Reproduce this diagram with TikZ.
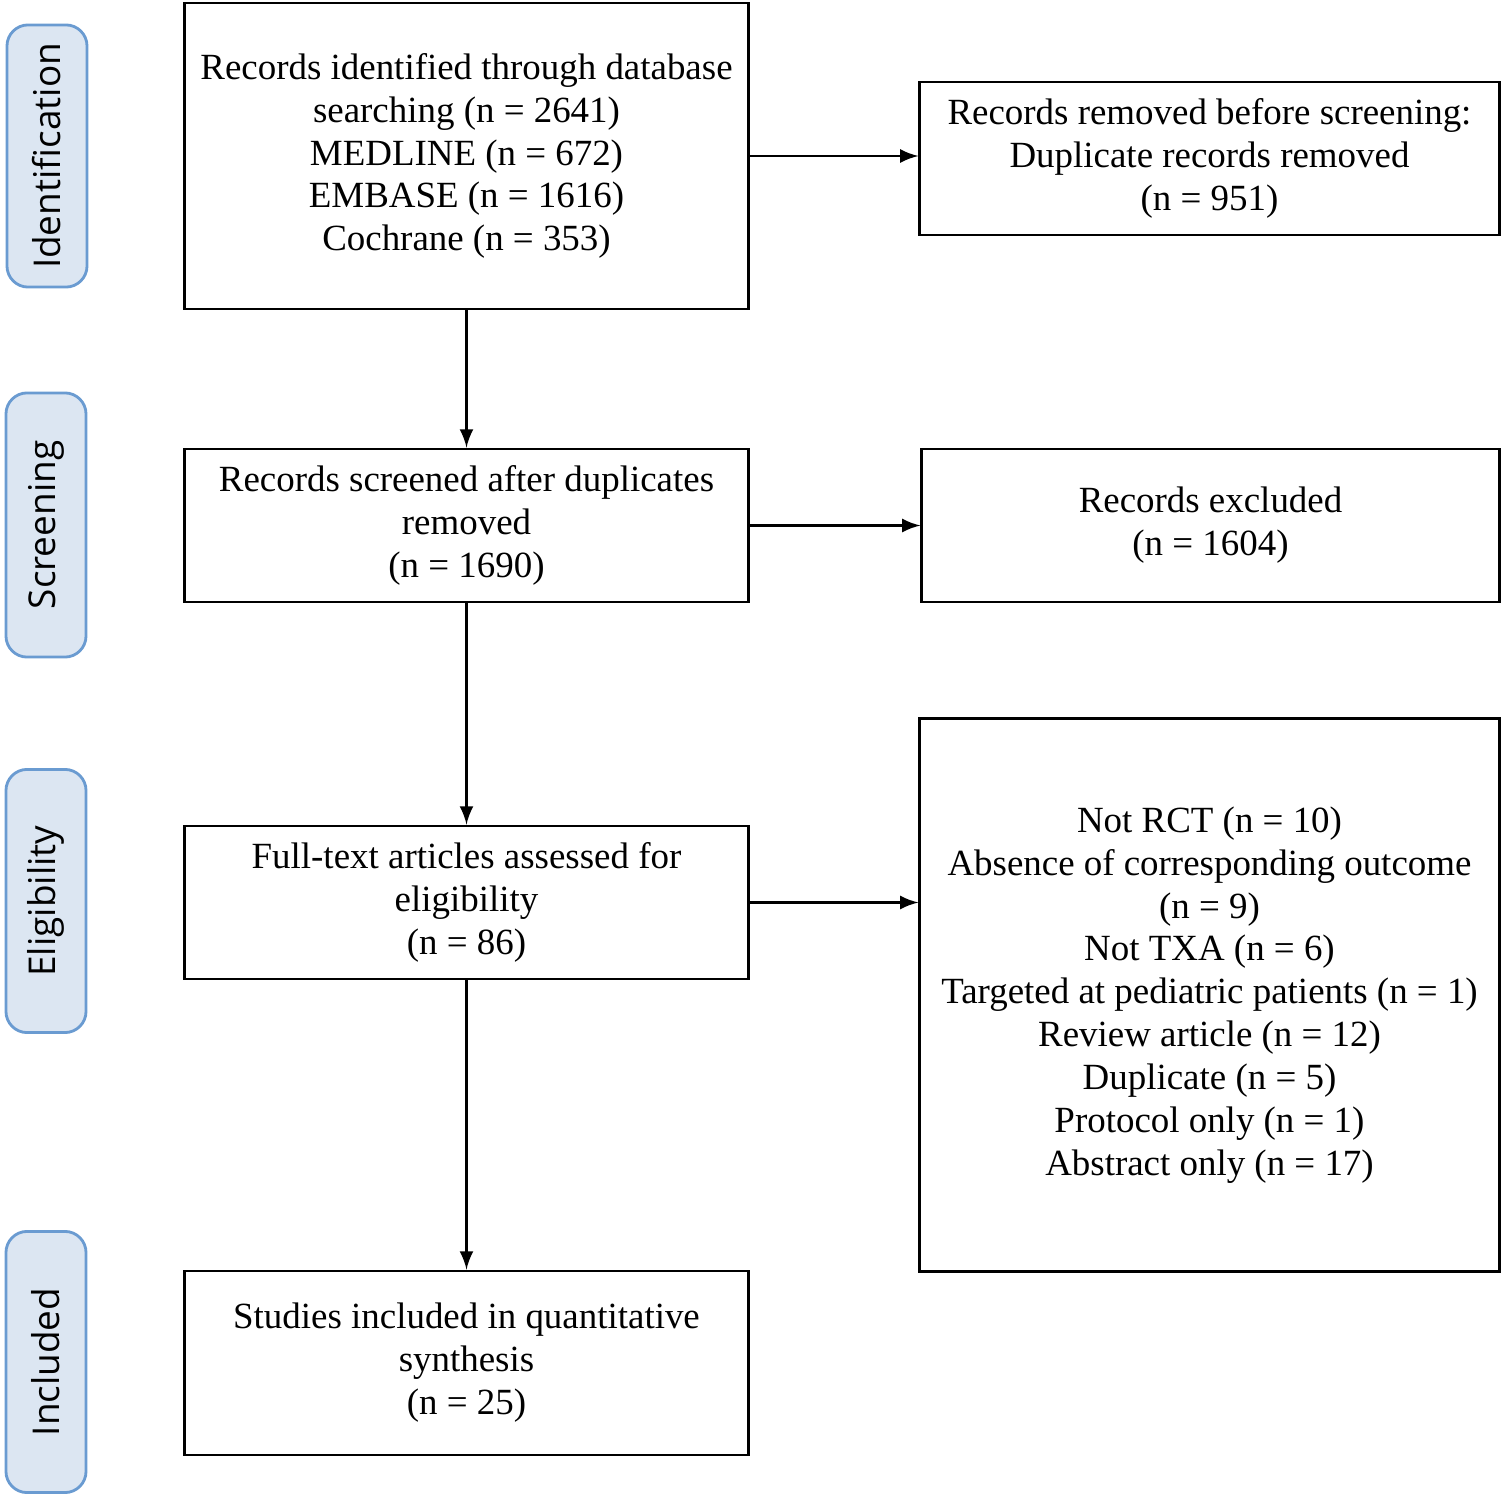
\documentclass[tikz,border=0pt]{standalone}
\usepackage{fontspec}
\setmainfont{Liberation Serif}
\newfontfamily\sidefont{Open Sans}
\usetikzlibrary{positioning}
\definecolor{phasefill}{HTML}{DCE6F2}
\definecolor{phaseline}{HTML}{6A9BD1}
\tikzset{
  box/.style={draw, thick, align=center, inner sep=0pt, font=\fontsize{10.5}{12.2}\selectfont},
  phase/.style={draw=phaseline, fill=phasefill, thick, rounded corners=6pt, minimum width=0.8cm,
    font=\sidefont\fontsize{10.5}{12}\selectfont},
  flow/.style={thick, -latex}
}
\begin{document}
\begin{tikzpicture}[x=0.01cm, y=-0.01cm]
  \useasboundingbox (0,0) rectangle (1502,1497);
  % phase labels
  \node[phase, minimum height=2.62cm] (pid) at (47,156) {\rotatebox{90}{Identification}};
  \node[phase, minimum height=2.64cm] (psc) at (46,525) {\rotatebox{90}{Screening}};
  \node[phase, minimum height=2.63cm] (pel) at (46,901) {\rotatebox{90}{Eligibility}};
  \node[phase, minimum height=2.61cm] (pin) at (46,1362) {\rotatebox{90}{Included}};
  % main column
  \node[box, minimum width=5.63cm, minimum height=3.06cm] (ident) at (466.5,156)
    {Records identified through database\\searching (n = 2641)\\MEDLINE (n = 672)\\EMBASE (n = 1616)\\Cochrane (n = 353)};
  \node[box, minimum width=5.63cm, minimum height=1.53cm] (screen) at (466.5,525.5)
    {Records screened after duplicates\\removed\\(n = 1690)};
  \node[box, minimum width=5.63cm, minimum height=1.53cm] (full) at (466.5,902.5)
    {Full-text articles assessed for\\eligibility\\(n = 86)};
  \node[box, minimum width=5.63cm, minimum height=1.84cm] (incl) at (466.5,1363)
    {Studies included in quantitative\\synthesis\\(n = 25)};
  % side column
  \node[box, minimum width=5.79cm, minimum height=1.53cm] (dup) at (1209.5,158.5)
    {Records removed before screening:\\Duplicate records removed\\(n = 951)};
  \node[box, minimum width=5.77cm, minimum height=1.53cm] (excl) at (1210.5,525.5)
    {Records excluded\\(n = 1604)};
  \node[box, minimum width=5.79cm, minimum height=5.52cm] (reasons) at (1209.5,995)
    {Not RCT (n = 10)\\Absence of corresponding outcome\\(n = 9)\\Not TXA (n = 6)\\Targeted at pediatric patients (n = 1)\\Review article (n = 12)\\Duplicate (n = 5)\\Protocol only (n = 1)\\Abstract only (n = 17)};
  % connectors
  \draw[flow] (ident) -- (screen);
  \draw[flow] (screen) -- (full);
  \draw[flow] (full) -- (incl);
  \draw[flow] (ident) -- (ident -| dup.west);
  \draw[flow] (screen) -- (excl);
  \draw[flow] (full) -- (full -| reasons.west);
\end{tikzpicture}
\end{document}
